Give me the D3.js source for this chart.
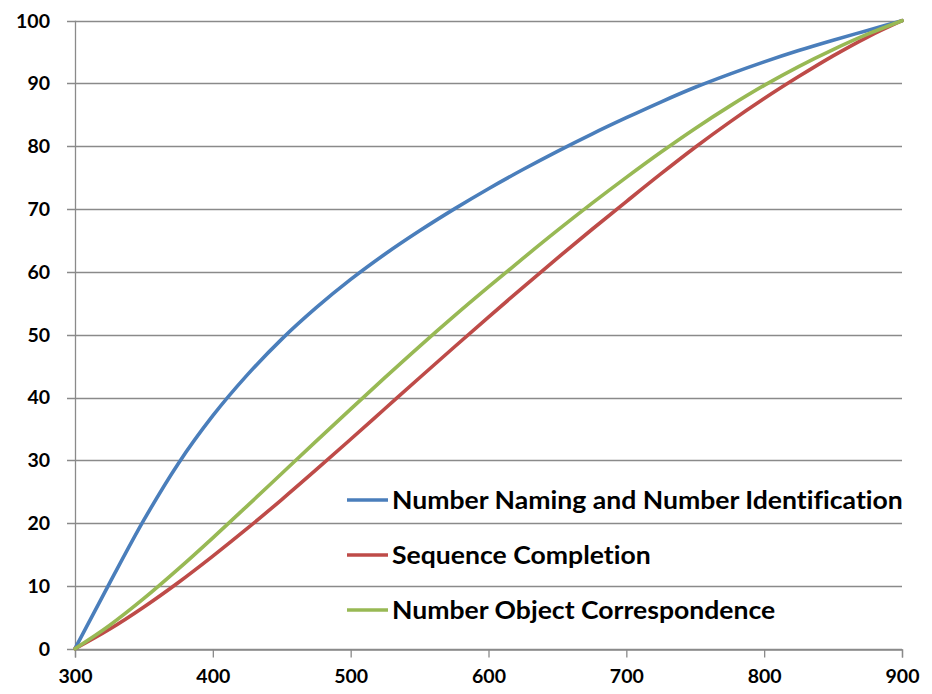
<!DOCTYPE html>
<html>
<head>
<meta charset="utf-8">
<script src="https://cdn.jsdelivr.net/npm/d3@7"></script>
<style>
  html, body { margin: 0; padding: 0; background: #fff; }
  svg { display: block; }
  text { font-family: Lato, "Noto Sans", sans-serif; font-weight: 700; fill: #000;
         font-variant-ligatures: none; font-feature-settings: "liga" 0, "clig" 0; }
</style>
</head>
<body>
<svg id="chart" width="932" height="694"></svg>
<script>
// Scores (%) along the scale, sampled every 25 points
const scaleScores = [300, 325, 350, 375, 400, 425, 450, 475, 500, 525, 550, 575, 600,
                     625, 650, 675, 700, 725, 750, 775, 800, 825, 850, 875, 900];
const namingIdentification = [0, 10.4, 20.5, 29.5, 37.1, 43.6, 49.3, 54.3, 58.8, 62.85, 66.55, 70.0, 73.25,
                              76.3, 79.2, 81.95, 84.55, 87.05, 89.4, 91.5, 93.45, 95.25, 96.9, 98.45, 100];
const sequenceCompletion   = [0, 3.1, 6.65, 10.55, 14.75, 19.15, 23.75, 28.5, 33.35, 38.25, 43.15, 48.0, 52.8,
                              57.55, 62.2, 66.75, 71.2, 75.6, 79.85, 83.85, 87.6, 91.1, 94.4, 97.4, 100];
const objectCorrespondence = [0, 3.7, 8.0, 12.7, 17.65, 22.75, 27.9, 33.05, 38.15, 43.2, 48.15, 52.95, 57.6,
                              62.15, 66.6, 70.9, 75.05, 79.05, 82.85, 86.4, 89.7, 92.7, 95.4, 97.85, 100];

const seriesNames  = ["Number Naming and Number Identification", "Sequence Completion", "Number Object Correspondence"];
const seriesValues = [namingIdentification, sequenceCompletion, objectCorrespondence];
const seriesColors = ["#4A7EBB", "#BE4B48", "#98B954"];

const xTicks = [300, 400, 500, 600, 700, 800, 900];
const yTicks = [0, 10, 20, 30, 40, 50, 60, 70, 80, 90, 100];

const svg = d3.select("#chart");
const x = d3.scaleLinear().domain([300, 900]).range([75, 902]);
const y = d3.scaleLinear().domain([0, 100]).range([648.7, 20.7]);
const gridColor = "#8a8a8a";

// horizontal gridlines (extend left past the axis as tick marks)
svg.append("g")
  .selectAll("line")
  .data(yTicks)
  .join("line")
  .attr("x1", x(300) - 8).attr("x2", x(900))
  .attr("y1", d => Math.round(y(d)) + 0.5).attr("y2", d => Math.round(y(d)) + 0.5)
  .attr("stroke", gridColor).attr("stroke-width", 1.3);

// y axis line
svg.append("line")
  .attr("x1", x(300) + 0.5).attr("x2", x(300) + 0.5)
  .attr("y1", y(100)).attr("y2", y(0))
  .attr("stroke", gridColor).attr("stroke-width", 1.3);

// x axis with downward ticks
const xAxis = d3.axisBottom(x).tickValues(xTicks).tickSize(8).tickPadding(12).tickFormat(d3.format("d"));
const gx = svg.append("g")
  .attr("transform", `translate(0,${Math.round(y(0)) + 0.5})`)
  .call(xAxis);
gx.select(".domain").attr("stroke", gridColor).attr("stroke-width", 1.3);
gx.selectAll(".tick line").attr("stroke", gridColor).attr("stroke-width", 1.3);
gx.selectAll(".tick text")
  .attr("font-family", "Lato, sans-serif").attr("font-weight", 700)
  .attr("font-size", 19.5).attr("fill", "#000");

// y tick labels
svg.append("g")
  .selectAll("text")
  .data(yTicks)
  .join("text")
  .attr("x", 50)
  .attr("y", d => y(d))
  .attr("dy", "0.35em")
  .attr("text-anchor", "end")
  .attr("font-size", 19.5)
  .text(d => d);

// series lines
const line = d3.line()
  .x((d, i) => x(scaleScores[i]))
  .y(d => y(d))
  .curve(d3.curveMonotoneX);

svg.append("g")
  .selectAll("path")
  .data(seriesValues)
  .join("path")
  .attr("d", d => line(d))
  .attr("fill", "none")
  .attr("stroke", (d, i) => seriesColors[i])
  .attr("stroke-width", 3.6)
  .attr("stroke-linejoin", "round")
  .attr("stroke-linecap", "round");

// legend
const legend = svg.append("g").attr("transform", "translate(347,500)");
const rows = legend.selectAll("g")
  .data(seriesNames)
  .join("g")
  .attr("transform", (d, i) => `translate(0,${i * 55})`);
rows.append("line")
  .attr("x1", 0).attr("x2", 41)
  .attr("stroke", (d, i) => seriesColors[i])
  .attr("stroke-width", 3.6);
const labels = rows.append("text")
  .attr("x", 0)
  .attr("y", 0)
  .attr("dy", "0.36em")
  .attr("font-size", 25)
  .text(d => d);

// stretch legend labels horizontally to the wider face width
const longest = labels.nodes()[0].getComputedTextLength();
const sx = 511 / longest;
labels.attr("transform", `translate(45,0) scale(${sx},1)`);
</script>
</body>
</html>
